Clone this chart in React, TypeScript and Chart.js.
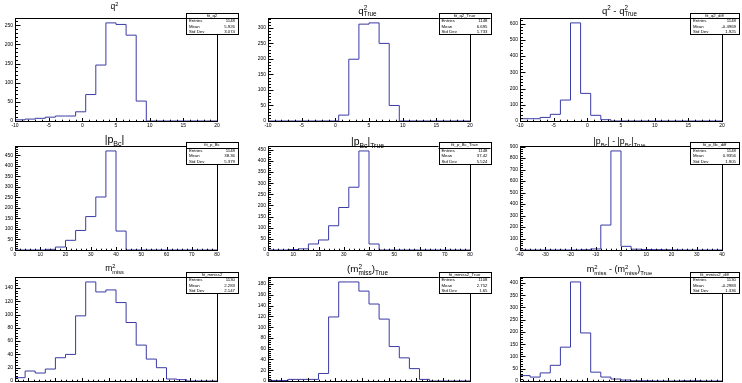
import React, { useEffect, useRef } from "react";
import { Chart, registerables } from "chart.js";
Chart.register(...registerables);

// ---------------- data ----------------
const N_BINS = 20;
const Q2_RANGE = [-10, 20];
const P_RANGE = [0, 80];
const P_DIFF_RANGE = [-40, 40];
const M2_RANGE = [-5, 10];

const Q2_RECO = [5, 3, 5, 7, 10, 13, 13, 24, 69, 146, 256, 252, 224, 52, 0, 0, 0, 0, 0, 0];
const Q2_TRUE = [0, 0, 0, 0, 0, 0, 0, 0, 19, 199, 312, 316, 250, 50, 0, 0, 0, 0, 0, 0];
const Q2_DIFF = [14, 14, 14, 22, 41, 129, 604, 170, 35, 8, 0, 0, 0, 0, 0, 0, 0, 0, 0, 0];
const P_RECO = [0, 0, 0, 0, 3, 14, 46, 93, 159, 252, 471, 90, 0, 0, 0, 0, 0, 0, 0, 0];
const P_TRUE = [0, 0, 0, 2, 5, 27, 45, 109, 191, 282, 445, 27, 0, 0, 0, 0, 0, 0, 0, 0];
const P_DIFF = [0, 0, 0, 0, 0, 0, 0, 2, 9, 217, 862, 32, 7, 4, 3, 2, 1, 0, 0, 0];
const M2_RECO = [8, 5, 15, 12, 18, 35, 40, 98, 149, 134, 137, 118, 88, 54, 33, 20, 3, 2, 0, 0];
const M2_TRUE = [1, 1, 1, 3, 3, 3, 14, 119, 184, 184, 167, 143, 115, 64, 43, 23, 3, 0, 0, 0];
const M2_DIFF = [22, 22, 16, 33, 64, 138, 404, 196, 36, 16, 8, 4, 1, 1, 0, 0, 0, 1, 1, 0];

const Q2_XTICKS = [-10, -5, 0, 5, 10, 15, 20];
const P_XTICKS = [0, 10, 20, 30, 40, 50, 60, 70, 80];
const P_DIFF_XTICKS = [-40, -30, -20, -10, 0, 10, 20, 30, 40];
const M2_XTICKS = [-4, -2, 0, 2, 4, 6, 8, 10];

const Q2_RECO_YTICKS = [0, 50, 100, 150, 200, 250];
const Q2_TRUE_YTICKS = [0, 50, 100, 150, 200, 250, 300];
const Q2_DIFF_YTICKS = [0, 100, 200, 300, 400, 500, 600];
const P_RECO_YTICKS = [0, 50, 100, 150, 200, 250, 300, 350, 400, 450];
const P_TRUE_YTICKS = [0, 50, 100, 150, 200, 250, 300, 350, 400, 450];
const P_DIFF_YTICKS = [0, 100, 200, 300, 400, 500, 600, 700, 800, 900];
const M2_RECO_YTICKS = [0, 20, 40, 60, 80, 100, 120, 140];
const M2_TRUE_YTICKS = [0, 20, 40, 60, 80, 100, 120, 140, 160, 180];
const M2_DIFF_YTICKS = [0, 50, 100, 150, 200, 250, 300, 350, 400];

const STAT_NAMES = ["fit_q2", "fit_q2_True", "fit_q2_diff", "fit_p_Bc", "fit_p_Bc_True", "fit_p_Bc_diff", "fit_mmiss2", "fit_mmiss2_True", "fit_mmiss2_diff"];
const STAT_ENTRIES = ["1148", "1148", "1148", "1148", "1148", "1148", "1130", "1108", "1130"];
const STAT_MEANS = ["5.926", "6.695", "-0.4969", "38.36", "37.42", "0.9356", "2.283", "2.752", "-0.2983"];
const STAT_STDS = ["3.074", "1.733", "1.925", "5.379", "5.524", "1.905", "2.147", "1.65", "1.336"];

// title tokens: n = normal, p = superscript, b = subscript, s = stacked [sup, sub]
type Tok = { t: string; k: "n" | "p" | "b" | "s"; t2?: string };
const T_Q2: Tok[] = [{ t: "q", k: "n" }, { t: "2", k: "p" }];
const T_Q2T: Tok[] = [{ t: "q", k: "n" }, { t: "2", k: "s", t2: "True" }];
const T_Q2D: Tok[] = [{ t: "q", k: "n" }, { t: "2", k: "p" }, { t: " - q", k: "n" }, { t: "2", k: "s", t2: "True" }];
const T_P: Tok[] = [{ t: "|p", k: "n" }, { t: "Bc", k: "b" }, { t: "|", k: "n" }];
const T_PT: Tok[] = [{ t: "|p", k: "n" }, { t: "Bc", k: "b" }, { t: "|", k: "n" }, { t: "True", k: "b" }];
const T_PD: Tok[] = [{ t: "|p", k: "n" }, { t: "Bc", k: "b" }, { t: "| - |p", k: "n" }, { t: "Bc", k: "b" }, { t: "|", k: "n" }, { t: "True", k: "b" }];
const T_M2: Tok[] = [{ t: "m", k: "n" }, { t: "2", k: "s", t2: "miss" }];
const T_M2T: Tok[] = [{ t: "(m", k: "n" }, { t: "2", k: "s", t2: "miss" }, { t: ")", k: "n" }, { t: "True", k: "b" }];
const T_M2D: Tok[] = [{ t: "m", k: "n" }, { t: "2", k: "s", t2: "miss" }, { t: " - (m", k: "n" }, { t: "2", k: "s", t2: "miss" }, { t: ")", k: "n" }, { t: "True", k: "b" }];

// ---------------- layout ----------------
const W = 742;
const H = 383;
const FRAME_L = [15, 268, 520];
const FRAME_R = [217, 470, 722];
const FRAME_T = [18, 146, 277];
const FRAME_B = [121, 250, 381];
const BOX_L = [186, 438.5, 690];
const BOX_R = [238, 490.5, 739];
const BOX_T = [13, 142, 272];
const BOX_B = [34, 164, 293];
const FONT = '"Liberation Sans", Arial, Helvetica, sans-serif';
const LINE = "#3a3aa6";

type Panel = {
  values: number[];
  range: number[];
  xticks: number[];
  yticks: number[];
  title: Tok[];
  tsize: number;
  tbase: number;
};

const PANELS: Panel[] = [
  { values: Q2_RECO, range: Q2_RANGE, xticks: Q2_XTICKS, yticks: Q2_RECO_YTICKS, title: T_Q2, tsize: 8.5, tbase: 9 },
  { values: Q2_TRUE, range: Q2_RANGE, xticks: Q2_XTICKS, yticks: Q2_TRUE_YTICKS, title: T_Q2T, tsize: 9.7, tbase: 13.5 },
  { values: Q2_DIFF, range: Q2_RANGE, xticks: Q2_XTICKS, yticks: Q2_DIFF_YTICKS, title: T_Q2D, tsize: 9.5, tbase: 13.5 },
  { values: P_RECO, range: P_RANGE, xticks: P_XTICKS, yticks: P_RECO_YTICKS, title: T_P, tsize: 10.7, tbase: 142.5 },
  { values: P_TRUE, range: P_RANGE, xticks: P_XTICKS, yticks: P_TRUE_YTICKS, title: T_PT, tsize: 10.4, tbase: 144.5 },
  { values: P_DIFF, range: P_DIFF_RANGE, xticks: P_DIFF_XTICKS, yticks: P_DIFF_YTICKS, title: T_PD, tsize: 8.8, tbase: 144 },
  { values: M2_RECO, range: M2_RANGE, xticks: M2_XTICKS, yticks: M2_RECO_YTICKS, title: T_M2, tsize: 8.5, tbase: 271 },
  { values: M2_TRUE, range: M2_RANGE, xticks: M2_XTICKS, yticks: M2_TRUE_YTICKS, title: T_M2T, tsize: 9.8, tbase: 272 },
  { values: M2_DIFF, range: M2_RANGE, xticks: M2_XTICKS, yticks: M2_DIFF_YTICKS, title: T_M2D, tsize: 9, tbase: 272 },
];

function drawTitle(ctx: CanvasRenderingContext2D, toks: Tok[], cx: number, base: number, fs: number) {
  const sf = fs * 0.66;
  const big = `${fs}px ${FONT}`;
  const small = `${sf}px ${FONT}`;
  const widths = toks.map((tk) => {
    if (tk.k === "n") { ctx.font = big; return ctx.measureText(tk.t).width; }
    ctx.font = small;
    if (tk.k === "s") return Math.max(ctx.measureText(tk.t).width, ctx.measureText(tk.t2 || "").width);
    return ctx.measureText(tk.t).width;
  });
  const total = widths.reduce((s, w) => s + w, 0);
  let x = cx - total / 2;
  ctx.fillStyle = "#000";
  ctx.textAlign = "left";
  ctx.textBaseline = "alphabetic";
  toks.forEach((tk, i) => {
    if (tk.k === "n") { ctx.font = big; ctx.fillText(tk.t, x, base); }
    else {
      ctx.font = small;
      if (tk.k === "p" || tk.k === "s") ctx.fillText(tk.t, x, base - fs * 0.32);
      if (tk.k === "b") ctx.fillText(tk.t, x, base + fs * 0.3);
      if (tk.k === "s") ctx.fillText(tk.t2 || "", x, base + fs * 0.3);
    }
    x += widths[i];
  });
}

function makePlugin(idx: number, p: Panel) {
  return {
    id: "rootstyle" + idx,
    afterDraw(chart: any) {
      const ctx: CanvasRenderingContext2D = chart.ctx;
      const a = chart.chartArea;
      const xs = chart.scales.x;
      const ys = chart.scales.y;
      const col = idx % 3;
      const row = Math.floor(idx / 3);
      ctx.save();
      const L = Math.round(a.left) + 0.5;
      const R = Math.round(a.right) + 0.5;
      const T = Math.round(a.top) + 0.5;
      const B = Math.round(a.bottom) + 0.5;
      ctx.strokeStyle = "#000";
      ctx.lineWidth = 1;
      ctx.strokeRect(L, T, R - L, B - T);

      // ticks
      const xStep = (p.xticks[1] - p.xticks[0]) / 5;
      const yStep = (p.yticks[1] - p.yticks[0]) / 5;
      ctx.beginPath();
      for (let k = Math.ceil(p.range[0] / xStep - 1e-6); k * xStep <= p.range[1] + 1e-6; k++) {
        const v = k * xStep;
        const px = Math.round(xs.getPixelForValue(v)) + 0.5;
        const major = p.xticks.some((t) => Math.abs(t - v) < 1e-6);
        ctx.moveTo(px, B);
        ctx.lineTo(px, B - (major ? 3.5 : 1.8));
      }
      const ymax = ys.max;
      for (let k = 0; k * yStep <= ymax + 1e-6; k++) {
        const v = k * yStep;
        const py = Math.round(ys.getPixelForValue(v)) + 0.5;
        const major = p.yticks.some((t) => Math.abs(t - v) < 1e-6);
        ctx.moveTo(L, py);
        ctx.lineTo(L + (major ? 5 : 2.5), py);
      }
      ctx.stroke();

      // tick labels
      ctx.fillStyle = "#000";
      ctx.font = `5px ${FONT}`;
      ctx.textAlign = "center";
      ctx.textBaseline = "top";
      p.xticks.forEach((t) => {
        ctx.fillText(String(t), xs.getPixelForValue(t), B + 1.5);
      });
      ctx.textAlign = "right";
      ctx.textBaseline = "middle";
      p.yticks.forEach((t) => {
        ctx.fillText(String(t), L - 2.5, ys.getPixelForValue(t));
      });

      // title
      drawTitle(ctx, p.title, (L + R) / 2 - 2, p.tbase, p.tsize);

      // stats box
      const bl = BOX_L[col], br = BOX_R[col], bt = BOX_T[row], bb = BOX_B[row];
      const lh = (bb - bt) / 4;
      ctx.fillStyle = "#fff";
      ctx.fillRect(bl, bt, br - bl, bb - bt);
      ctx.strokeStyle = "#000";
      ctx.strokeRect(Math.round(bl) + 0.5, Math.round(bt) + 0.5, Math.round(br - bl), Math.round(bb - bt));
      ctx.beginPath();
      ctx.moveTo(bl, Math.round(bt + lh) + 0.5);
      ctx.lineTo(br, Math.round(bt + lh) + 0.5);
      ctx.stroke();
      ctx.fillStyle = "#000";
      ctx.font = `4.3px ${FONT}`;
      ctx.textBaseline = "middle";
      ctx.textAlign = "center";
      ctx.fillText(STAT_NAMES[idx], (bl + br) / 2, bt + lh * 0.5 + 0.3);
      const rows = [["Entries", STAT_ENTRIES[idx]], ["Mean", STAT_MEANS[idx]], ["Std Dev", STAT_STDS[idx]]];
      rows.forEach((r, i) => {
        const yy = bt + lh * (1.5 + i) + 0.3;
        ctx.textAlign = "left";
        ctx.fillText(r[0], bl + 3, yy);
        ctx.textAlign = "right";
        ctx.fillText(r[1], Math.min(br, W) - 3, yy);
      });
      ctx.restore();
    },
  };
}

function HistPanel({ idx }: { idx: number }) {
  const ref = useRef<HTMLCanvasElement | null>(null);
  useEffect(() => {
    const p = PANELS[idx];
    const col = idx % 3;
    const row = Math.floor(idx / 3);
    const lo = p.range[0];
    const hi = p.range[1];
    const pts = p.values.map((v, i) => ({ x: lo + ((hi - lo) * i) / N_BINS, y: v }));
    pts.push({ x: hi, y: p.values[p.values.length - 1] });
    const ymax = Math.max(...p.values) * 1.05;
    const chart = new Chart(ref.current as HTMLCanvasElement, {
      type: "line",
      data: {
        datasets: [
          {
            data: pts,
            stepped: "after",
            borderColor: LINE,
            borderWidth: 1,
            pointRadius: 0,
            fill: false,
            tension: 0,
          } as any,
        ],
      },
      options: {
        animation: false,
        responsive: false,
        events: [],
        layout: {
          padding: {
            left: FRAME_L[col],
            right: W - FRAME_R[col],
            top: FRAME_T[row],
            bottom: H - FRAME_B[row],
          },
        },
        plugins: { legend: { display: false }, tooltip: { enabled: false }, title: { display: false } },
        scales: {
          x: { type: "linear", min: lo, max: hi, display: false },
          y: { type: "linear", min: 0, max: ymax, display: false },
        },
      },
      plugins: [makePlugin(idx, p)],
    });
    return () => chart.destroy();
  }, [idx]);
  return <canvas ref={ref} width={W} height={H} style={{ position: "absolute", left: 0, top: 0, width: W, height: H }} />;
}

export default function App() {
  return (
    <div style={{ position: "absolute", left: 0, top: 0, width: W, height: H, overflow: "hidden", background: "#fff" }}>
      {PANELS.map((_, i) => (
        <HistPanel key={i} idx={i} />
      ))}
    </div>
  );
}
